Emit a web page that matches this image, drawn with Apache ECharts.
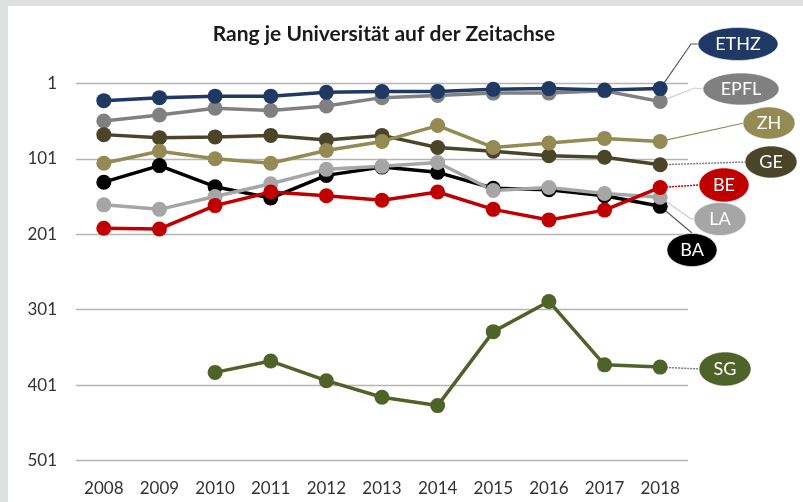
<!DOCTYPE html>
<html>
<head>
<meta charset="utf-8">
<script src="https://cdn.jsdelivr.net/npm/echarts@6/dist/echarts.min.js"></script>
<style>
  html, body { margin: 0; padding: 0; background: #dfe0e2; }
  #chart { position: absolute; left: 8px; top: 6px; width: 795px; height: 496px; background: #fff; }
</style>
</head>
<body>
<div id="chart"></div>
<script>
// Rang je Universität (QS) 2008-2018
const years = ['2008', '2009', '2010', '2011', '2012', '2013', '2014', '2015', '2016', '2017', '2018'];
const yTicks = [1, 101, 201, 301, 401, 501];

const ethz = [24, 20, 18, 18, 13, 12, 12, 9, 8, 10, 8];
const epfl = [51, 43, 34, 37, 31, 20, 17, 14, 14, 11, 25];
const ge = [69, 73, 72, 70, 76, 70, 86, 91, 97, 99, 109];
const zh = [107, 91, 101, 107, 90, 78, 57, 86, 80, 74, 78];
const ba = [132, 110, 138, 153, 123, 112, 119, 140, 142, 150, 164];
const la = [162, 168, 151, 134, 115, 111, 106, 143, 139, 147, 152];
const be = [193, 194, 163, 145, 150, 156, 145, 168, 182, 169, 139];
const sg = [null, null, 384, 369, 395, 417, 428, 330, 290, 374, 377];

const font = 'Lato, "Open Sans", sans-serif';

// drawing order: later ones lie on top
const unis = [
  { name: 'EPFL', data: epfl, color: '#808080', lbl: [733, 83, 38, 16], path: [[687, 82], [695, 83]], lc: '#d0d0d0', dash: false },
  { name: 'ETHZ', data: ethz, color: '#1f3864', lbl: [730, 38, 40, 16.5], path: [[683, 38], [690, 38]], lc: '#595959', dash: false },
  { name: 'GE', data: ge, color: '#4a4529', lbl: [763, 156, 26, 16], path: [[737, 156]], lc: '#7f7f7f', dash: true },
  { name: 'ZH', data: zh, color: '#948a54', lbl: [761, 117, 26, 16], path: [[736, 117]], lc: '#948a54', dash: false },
  { name: 'BA', data: ba, color: '#000000', lbl: [684, 244, 25, 16.5], path: [[684, 227]], lc: '#595959', dash: false },
  { name: 'LA', data: la, color: '#a6a6a6', lbl: [712, 213, 26, 16.5], path: [[683, 213], [686, 213]], lc: '#c8c8c8', dash: false },
  { name: 'BE', data: be, color: '#c00000', lbl: [716, 179, 25, 17], path: [[691, 179]], lc: '#c00000', dash: true },
  { name: 'SG', data: sg, color: '#4f6228', lbl: [717, 363, 26, 17], path: [[691, 363]], lc: '#7f7f7f', dash: true }
];

const chart = echarts.init(document.getElementById('chart'));

chart.setOption({
  animation: false,
  title: {
    text: 'Rang je Universität auf der Zeitachse',
    left: 371,
    top: 13,
    textAlign: 'center',
    textStyle: { fontFamily: font, fontSize: 21, fontWeight: 'bold', color: '#1a1a1a' }
  },
  grid: { left: 68, right: 115, top: 77.3, bottom: 41.3 },
  xAxis: {
    type: 'category',
    data: years,
    position: 'bottom',
    axisLine: { show: false, onZero: false },
    axisTick: { show: false },
    axisLabel: { fontFamily: font, fontSize: 17, color: '#333', margin: 19 }
  },
  yAxis: {
    type: 'value',
    inverse: true,
    min: yTicks[0],
    max: yTicks[yTicks.length - 1],
    interval: 100,
    axisLine: { show: false },
    axisTick: { show: false },
    axisLabel: { fontFamily: font, fontSize: 17, color: '#333', margin: 19 },
    splitLine: { lineStyle: { color: '#b5b5b5', width: 1.3 } }
  },
  series: unis.map(u => ({
    name: u.name,
    type: 'line',
    data: u.data,
    symbol: 'circle',
    symbolSize: 15,
    showAllSymbol: true,
    itemStyle: { color: u.color },
    lineStyle: { color: u.color, width: 3.5 },
    emphasis: { disabled: true },
    silent: true
  }))
});

// callout ellipses with leader lines from the last point of each series
const graphics = [];
unis.forEach((u, i) => {
  const last = u.data.length - 1;
  const p = chart.convertToPixel({ seriesIndex: i }, [last, u.data[last]]);
  const pts = [p].concat(u.path);
  graphics.push({
    type: 'polyline',
    z: 1,
    silent: true,
    shape: { points: pts },
    style: { stroke: u.lc, lineWidth: u.dash ? 1.5 : 1.2, lineDash: u.dash ? [2, 1] : null, fill: null }
  });
  graphics.push({
    type: 'ellipse',
    z: 5,
    silent: true,
    shape: { cx: u.lbl[0], cy: u.lbl[1], rx: u.lbl[2], ry: u.lbl[3] },
    style: { fill: u.color, stroke: 'rgba(255,255,255,0.6)', lineWidth: 1 }
  });
  graphics.push({
    type: 'text',
    z: 6,
    silent: true,
    x: u.lbl[0],
    y: u.lbl[1],
    style: {
      text: u.name,
      fill: '#fff',
      font: '18px ' + font,
      align: 'center',
      verticalAlign: 'middle'
    }
  });
});
chart.setOption({ graphic: graphics });
</script>
</body>
</html>
